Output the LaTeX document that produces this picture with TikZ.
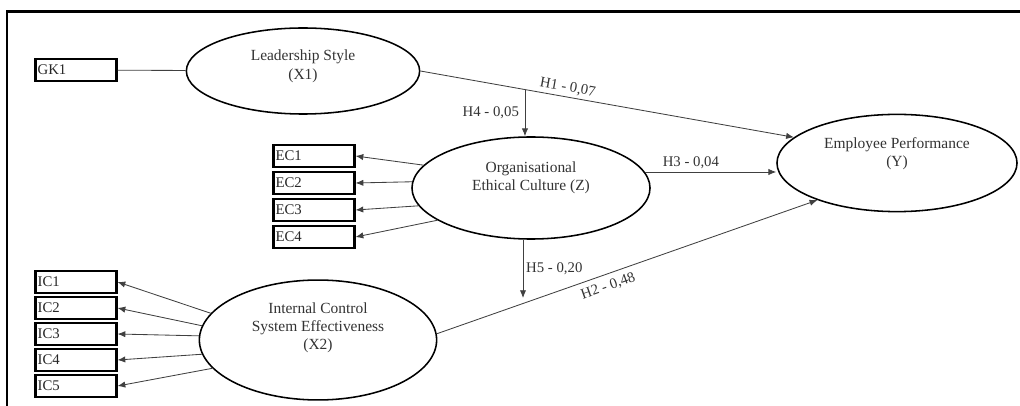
\documentclass[tikz,border=0pt]{standalone}
\usepackage{fontspec}
\setmainfont{Liberation Serif}
\usetikzlibrary{positioning, calc, shapes.geometric, arrows.meta}

\tikzset{
  construct/.style={ellipse, draw, line width=1.1pt, align=center,
    font=\fontsize{11}{13}\selectfont, text=black!80},
  indicator/.style={draw, line width=1.5pt, minimum height=0.53cm, inner sep=1.5pt,
    text width=1.92cm, align=left, font=\fontsize{10.5}{12}\selectfont, text=black!85},
  link/.style={draw=black!75, line width=0.6pt, -{Latex[length=5.5pt,width=4.5pt]}},
  coef/.style={font=\fontsize{10.5}{12}\selectfont, text=black!80, inner sep=2pt}
}

\begin{document}
\begin{tikzpicture}[x=0.025cm, y=-0.025cm]
        \useasboundingbox (0,0) rectangle (1020,406);
        \draw[line width=1.8pt] (7,406) -- (7,11.5) -- (1020,11.5);

        % constructs
        \node[construct, minimum width=5.83cm, minimum height=2.15cm, text depth=9pt] (ls) at (303,71) {Leadership Style\\(X1)};
        \node[construct, minimum width=5.95cm, minimum height=2.55cm, text depth=17pt] (org) at (531,188) {Organisational\\Ethical Culture (Z)};
        \node[construct, minimum width=6cm, minimum height=2.43cm, text depth=16pt] (ep) at (897,163) {Employee Performance\\(Y)};
        \node[construct, minimum width=5.93cm, minimum height=2.75cm, text depth=20pt] (ic) at (318,340) {Internal Control\\System Effectiveness\\(X2)};

        % indicators
        \node[indicator] (gk1) at (76,70) {GK1};
        \foreach \i/\y in {1/156,2/183,3/210,4/237}
            \node[indicator] (ec\i) at (314,\y) {EC\i};
        \foreach \i/\y in {1/282,2/308,3/334,4/360,5/386}
            \node[indicator] (ic\i) at (76,\y) {IC\i};

        % loadings
        \draw[draw=black!75, line width=0.6pt] (gk1) -- (ls);
        \foreach \i/\a in {1/168,2/177,3/189,4/199}
            \draw[link] (org.\a) -- (ec\i.east);
        \foreach \i/\a in {1/166,2/173,3/178,4/187,5/195}
            \draw[link] (ic.\a) -- (ic\i.east);

        % hypotheses
        \draw[link] (ls.east) -- node[coef, pos=.39, above, sloped] {H1 - 0,07} (ep.166);
        \coordinate (h4) at ($(ls.east)!0.28!(ep.166)$);
        \draw[link] (h4) -- node[coef, left, inner sep=4pt] {H4 - 0,05} (h4 |- org.north);
        \draw[link] (org.8) -- node[coef, pos=.35, above] {H3 - 0,04} (org.8 -| ep.west);
        \coordinate (h5) at (523,298);
        \draw[link] (h5 |- org.south) -- node[coef, right] {H5 - 0,20} (h5);
        \draw[link] (ic.3) -- node[coef, pos=.44, below, sloped, inner sep=4pt] {H2 - 0,48} (ep.205);
    \end{tikzpicture}
\end{document}
